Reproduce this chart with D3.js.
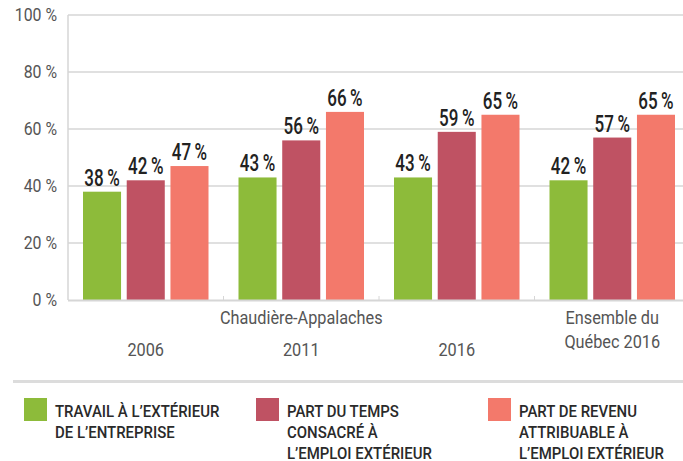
<!DOCTYPE html>
<html>
<head>
<meta charset="utf-8">
<script src="https://cdn.jsdelivr.net/npm/d3@7/dist/d3.min.js"></script>
<style>
  body { margin: 0; background: #fff; }
  svg text { font-family: "Roboto", "Liberation Sans", sans-serif; }
</style>
</head>
<body>
<svg id="chart" width="683" height="461"></svg>
<script>
// ---- data
var groups = ["2006", "2011", "2016", "Québec 2016"];
var series = ["travail", "temps", "revenu"];
var travailValues = [38, 43, 43, 42];
var tempsValues = [42, 56, 59, 57];
var revenuValues = [47, 66, 65, 65];
var yTicks = [0, 20, 40, 60, 80, 100];
var legendLabels = [
  ["TRAVAIL À L’EXTÉRIEUR", "DE L’ENTREPRISE"],
  ["PART DU TEMPS", "CONSACRÉ À", "L’EMPLOI EXTÉRIEUR"],
  ["PART DE REVENU", "ATTRIBUABLE À", "L’EMPLOI EXTÉRIEUR"]
];
var colors = ["#8dbb3a", "#bf5263", "#f3796b"];

var svg = d3.select("#chart");

// condensed look : squeeze text horizontally around its x anchor
function narrow(sel, s) {
  sel.attr("transform", function() {
    var x = +this.getAttribute("x");
    return "translate(" + x + ",0) scale(" + s + ",1) translate(" + (-x) + ",0)";
  });
}

// scales
var x0 = d3.scaleBand().domain(groups).range([68, 690]).paddingInner(0).paddingOuter(0);
var x1 = d3.scaleBand().domain(series).range([15, x0.bandwidth() - 15]).paddingInner(0.13);
var y = d3.scaleLinear().domain([0, 100]).range([300, 15]);

// gridlines
svg.append("g").selectAll("line")
  .data(yTicks.filter(d => d > 0))
  .enter().append("line")
  .attr("x1", 68).attr("x2", 683)
  .attr("y1", d => y(d)).attr("y2", d => y(d))
  .style("stroke", "#d6d6d6").style("stroke-width", 1.3);

// y axis line
svg.append("line")
  .attr("x1", 68).attr("x2", 68).attr("y1", y(100)).attr("y2", y(0))
  .style("stroke", "#d6d6d6").style("stroke-width", 1.5);

// y tick labels
svg.append("g").selectAll("text")
  .data(yTicks)
  .enter().append("text")
  .attr("x", 57)
  .attr("y", d => y(d) + 6.5)
  .style("text-anchor", "end")
  .style("font-size", "18px")
  .style("fill", "#555")
  .text(d => d + " %")
  .call(narrow, 0.88);

// bars
var table = groups.map(function(g, i) {
  return { group: g, values: [travailValues[i], tempsValues[i], revenuValues[i]] };
});

var gGroups = svg.append("g").selectAll("g")
  .data(table)
  .enter().append("g")
  .attr("transform", d => "translate(" + x0(d.group) + ",0)");

gGroups.selectAll("rect")
  .data(d => d.values.map((v, j) => ({ key: series[j], value: v, j: j })))
  .enter().append("rect")
  .attr("x", d => x1(d.key))
  .attr("width", x1.bandwidth())
  .attr("y", d => y(d.value))
  .attr("height", d => y(0) - y(d.value))
  .style("fill", d => colors[d.j]);

gGroups.selectAll("text")
  .data(d => d.values.map((v, j) => ({ key: series[j], value: v })))
  .enter().append("text")
  .attr("x", d => x1(d.key) + x1.bandwidth() / 2)
  .attr("y", d => y(d.value) - 6)
  .style("text-anchor", "middle")
  .style("font-size", "23px")
  .style("font-weight", "500")
  .style("fill", "#222")
  .text(d => d.value + "\u2009%")
  .call(narrow, 0.74);

// x axis baseline
svg.append("line")
  .attr("x1", 68).attr("x2", 683).attr("y1", 300.5).attr("y2", 300.5)
  .style("stroke", "#d6d6d6").style("stroke-width", 2);

// small ticks between groups
svg.append("g").selectAll("line")
  .data(groups.slice(1))
  .enter().append("line")
  .attr("x1", d => x0(d)).attr("x2", d => x0(d))
  .attr("y1", 296).attr("y2", 300)
  .style("stroke", "#d6d6d6").style("stroke-width", 1);

// x labels
function cx(g) { return x0(g) + x0.bandwidth() / 2; }
var xlab = svg.append("g").style("font-size", "18.5px").style("fill", "#555");
["2006", "2011", "2016"].forEach(function(g) {
  xlab.append("text").attr("x", cx(g)).attr("y", 356).style("text-anchor", "middle").text(g);
});
xlab.append("text").attr("x", cx("2011")).attr("y", 324).style("text-anchor", "middle").text("Chaudière-Appalaches");
xlab.append("text").attr("x", cx("Québec 2016")).attr("y", 324).style("text-anchor", "middle").text("Ensemble du");
xlab.append("text").attr("x", cx("Québec 2016")).attr("y", 348).style("text-anchor", "middle").text("Québec 2016");
xlab.selectAll("text").call(narrow, 0.88);

// separator
svg.append("line")
  .attr("x1", 13).attr("x2", 683).attr("y1", 381.5).attr("y2", 381.5)
  .style("stroke", "#dcdcdc").style("stroke-width", 3);

// legend
var legendX = [24, 256, 488];
var leg = svg.append("g").selectAll("g")
  .data(legendLabels)
  .enter().append("g")
  .attr("transform", (d, i) => "translate(" + legendX[i] + ",398)");

leg.append("rect")
  .attr("width", 23).attr("height", 23)
  .style("fill", (d, i) => colors[i]);

leg.selectAll("text")
  .data(d => d)
  .enter().append("text")
  .attr("x", 31)
  .attr("y", (d, k) => 19 + k * 21)
  .style("font-size", "17px")
  .style("font-weight", "500")
  .style("fill", "#2a2a2a")
  .text(d => d)
  .call(narrow, 0.88);
</script>
</body>
</html>
